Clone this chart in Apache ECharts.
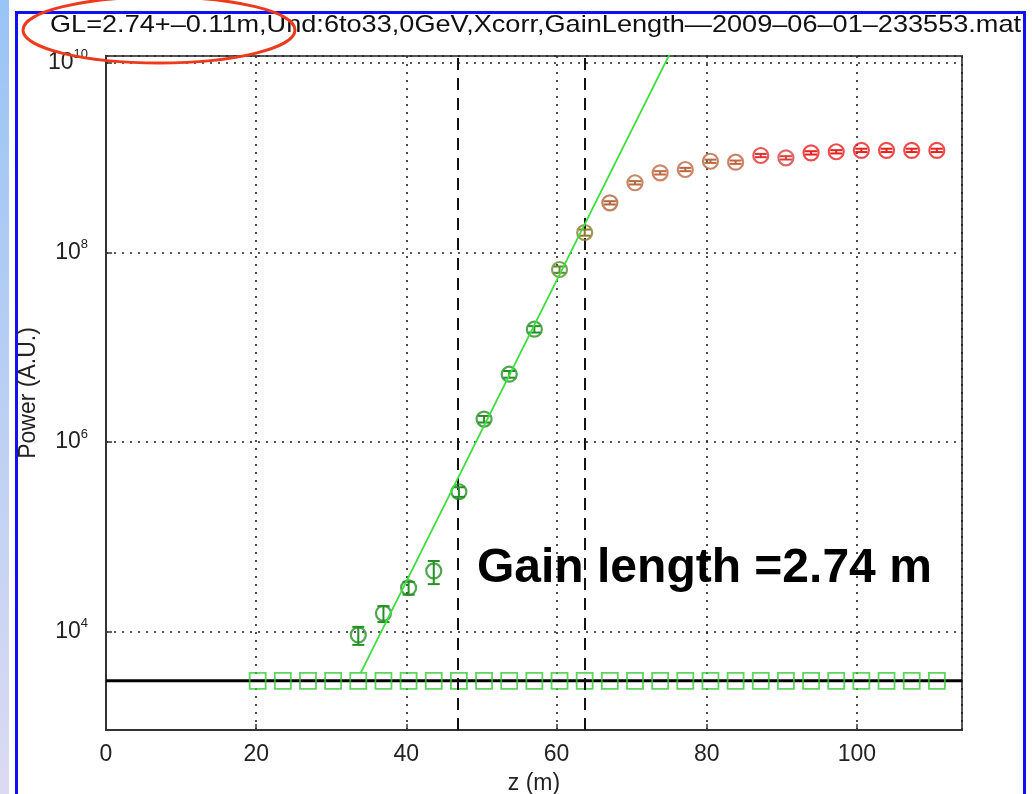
<!DOCTYPE html>
<html><head><meta charset="utf-8">
<script src="https://cdn.jsdelivr.net/npm/echarts@6/dist/echarts.min.js"></script>
<style>html,body{margin:0;padding:0;background:#fff;}#c{width:1032px;height:794px;}</style>
</head><body><div id="c"></div>
<script>
// ---------- data ----------
const titleText = 'GL=2.74+\u20130.11m,Und:6to33,0GeV,Xcorr,GainLength\u20142009\u201306\u201301\u2013233553.mat';
const annotation = 'Gain length =2.74 m';
const xTitle = 'z (m)';
const yTitle = 'Power (A.U.)';
const xTicks = [0, 20, 40, 60, 80, 100];
const yTickExponents = [4, 6, 8, 10];
const xRange = [0, 114];
const yRange = [925, 1.175e10];

// background (noise) level: z of the squares and their power
const zSquares = [20.2, 23.55, 26.9, 30.25, 33.6, 36.95, 40.3, 43.65, 47.0, 50.35, 53.7, 57.05, 60.4, 63.75,
                  67.1, 70.45, 73.8, 77.15, 80.5, 83.85, 87.2, 90.55, 93.9, 97.25, 100.6, 103.95, 107.3, 110.65];
const pSquares = [3050, 3050, 3050, 3050, 3050, 3050, 3050, 3050, 3050, 3050, 3050, 3050, 3050, 3050,
                  3050, 3050, 3050, 3050, 3050, 3050, 3050, 3050, 3050, 3050, 3050, 3050, 3050, 3050];
const backgroundLine = [[0, 3050], [114, 3050]];

// measured FEL power with error bars
const zPoints = [33.6, 36.95, 40.3, 43.65, 47.0, 50.35, 53.7, 57.05, 60.4, 63.75,
                 67.1, 70.45, 73.8, 77.15, 80.5, 83.85, 87.2, 90.55, 93.9, 97.25, 100.6, 103.95, 107.3, 110.65];
const power   = [9.3e3, 1.57e4, 2.92e4, 4.39e4, 3.0e5, 1.75e6, 5.2e6, 1.55e7, 6.6e7, 1.62e8,
                 3.33e8, 5.42e8, 6.9e8, 7.48e8, 9.14e8, 8.93e8, 1.05e9, 9.93e8, 1.12e9, 1.15e9, 1.19e9, 1.19e9, 1.19e9, 1.19e9];
const powerErr = [2.0e3, 3.0e3, 4.5e3, 1.2e4, 3.5e4, 1.4e5, 4.2e5, 1.2e6, 5.0e6, 1.2e7,
                  1.3e7, 2.2e7, 2.8e7, 3.0e7, 3.6e7, 3.6e7, 4.2e7, 4.0e7, 4.5e7, 4.6e7, 4.8e7, 4.8e7, 4.8e7, 4.8e7];

// exponential gain fit (two end points of the straight line in log scale)
const fitLine = [[33.9, 3670], [76.0, 1.73e10]];
// fit window boundaries
const fitBounds = [46.9, 63.8];

// ---------- styles ----------
const pointColors = ['#248f24','#248f24','#248f24','#248f24','#248f24','#248f24','#248f24','#248f24','#5c8c2c','#8a7a2a',
                     '#b0653a','#b86a3e','#bf6a40','#bb6840','#b8683e','#c06440','#e03030','#d84040','#e82020','#e82020','#e82020','#e82020','#e82020','#e82020'];
const FONT = 'Liberation Sans';

const chart = echarts.init(document.getElementById('c'), null, {renderer: 'canvas'});

const option = {
  backgroundColor: '#ffffff',
  animation: false,
  textStyle: {fontFamily: FONT},
  grid: {left: 106, right: 70, top: 56, bottom: 64, show: true, borderColor: '#555', borderWidth: 2, backgroundColor: '#fff',
         containLabel: false, outerBoundsMode: 'none'},
  xAxis: {
    type: 'value', min: xRange[0], max: xRange[1], interval: 20,
    name: xTitle, nameLocation: 'middle', nameGap: 42, nameMoveOverlap: false,
    nameTextStyle: {fontSize: 23, color: '#222', fontFamily: FONT},
    axisLine: {show: true, lineStyle: {color: '#333', width: 2}},
    axisTick: {show: true, inside: true, length: 6, lineStyle: {color: '#333', width: 1.5}},
    axisLabel: {fontSize: 23, color: '#222', margin: 13, showMaxLabel: false, fontFamily: FONT,
      formatter: v => xTicks.indexOf(v) >= 0 ? String(v) : ''},
    splitLine: {show: true, lineStyle: {color: '#222', width: 1.6, type: [2, 6]}}
  },
  yAxis: {
    type: 'log', logBase: 100, min: yRange[0], max: yRange[1],
    name: yTitle, nameLocation: 'middle', nameGap: 66, nameRotate: 90, nameMoveOverlap: false,
    nameTextStyle: {fontSize: 23, color: '#222', fontFamily: FONT},
    axisLine: {show: true, lineStyle: {color: '#333', width: 2}},
    axisTick: {show: true, inside: true, length: 6, lineStyle: {color: '#333', width: 1.5}},
    minorTick: {show: false},
    axisLabel: {
      margin: 18, showMinLabel: false, showMaxLabel: false,
      formatter: v => {
        const e = Math.log10(v); const r = Math.round(e);
        if (Math.abs(e - r) > 1e-6 || yTickExponents.indexOf(r) < 0) return '';
        return '{b|10}{s|' + r + '}';
      },
      rich: {
        b: {fontSize: 23, color: '#222', fontFamily: FONT},
        s: {fontSize: 13, color: '#222', fontFamily: FONT, padding: [0, 0, 16, 0]}
      }
    },
    splitLine: {show: true, lineStyle: {color: '#222', width: 1.6, type: [2, 6]}}
  },
  series: [
    {
      type: 'line', data: backgroundLine, symbol: 'none', silent: true,
      lineStyle: {color: '#000', width: 3}, z: 3,
      markLine: {
        silent: true, symbol: 'none', label: {show: false},
        lineStyle: {color: '#111', width: 2, type: [12, 8]},
        data: fitBounds.map(v => ({xAxis: v}))
      }
    },
    {
      type: 'scatter', data: zSquares.map((z, i) => [z, pSquares[i]]),
      symbol: 'rect', symbolSize: 16, silent: true,
      itemStyle: {color: 'rgba(0,0,0,0)', borderColor: '#33cc33', borderWidth: 1.8}, z: 4
    },
    {
      type: 'line', data: fitLine, symbol: 'none', silent: true,
      lineStyle: {color: '#3ede3e', width: 1.8}, z: 6
    },
    {
      type: 'custom', silent: true, z: 5,
      data: zPoints.map((z, i) => [z, power[i] - powerErr[i], power[i] + powerErr[i]]),
      encode: {x: 0, y: [1, 2]},
      renderItem: (params, api) => {
        const x = api.value(0);
        const lo = api.coord([x, api.value(1)]);
        const hi = api.coord([x, api.value(2)]);
        const c = pointColors[params.dataIndex];
        const w = 6;
        const st = {stroke: c, lineWidth: 2};
        return {type: 'group', children: [
          {type: 'line', shape: {x1: lo[0], y1: lo[1], x2: hi[0], y2: hi[1]}, style: st},
          {type: 'line', shape: {x1: lo[0] - w, y1: lo[1], x2: lo[0] + w, y2: lo[1]}, style: st},
          {type: 'line', shape: {x1: hi[0] - w, y1: hi[1], x2: hi[0] + w, y2: hi[1]}, style: st}
        ]};
      }
    },
    {
      type: 'scatter', silent: true, z: 5,
      data: zPoints.map((z, i) => ({value: [z, power[i]], itemStyle: {borderColor: pointColors[i]}})),
      symbol: 'circle', symbolSize: 15,
      itemStyle: {color: 'rgba(0,0,0,0)', borderWidth: 2.2}
    }
  ],
  graphic: [
    {type: 'rect', z: -20, silent: true, shape: {x: 0, y: 0, width: 9, height: 794},
      style: {fill: new echarts.graphic.LinearGradient(0, 0, 0, 1, [{offset: 0, color: '#98c4f6'}, {offset: 1, color: '#dcdaf2'}])}},
    {type: 'rect', z: -10, silent: true, shape: {x: 16.5, y: 12.5, width: 1008, height: 820},
      style: {fill: 'none', stroke: '#1010f0', lineWidth: 3}},
    {type: 'text', z: 50, silent: true, x: 50, y: 25, scaleX: 1.13,
      style: {text: titleText, font: '24px "' + FONT + '"', fill: '#111', textVerticalAlign: 'middle', textAlign: 'left'}},
    {type: 'text', z: 50, silent: true, x: 477, y: 569,
      style: {text: annotation, font: 'bold 48px "' + FONT + '"', fill: '#000', textVerticalAlign: 'middle', textAlign: 'left'}},
    {type: 'ellipse', z: 60, silent: true, shape: {cx: 159, cy: 30, rx: 136, ry: 33},
      style: {fill: 'none', stroke: '#ee3a1c', lineWidth: 3}}
  ]
};
chart.setOption(option);
</script>
</body></html>
